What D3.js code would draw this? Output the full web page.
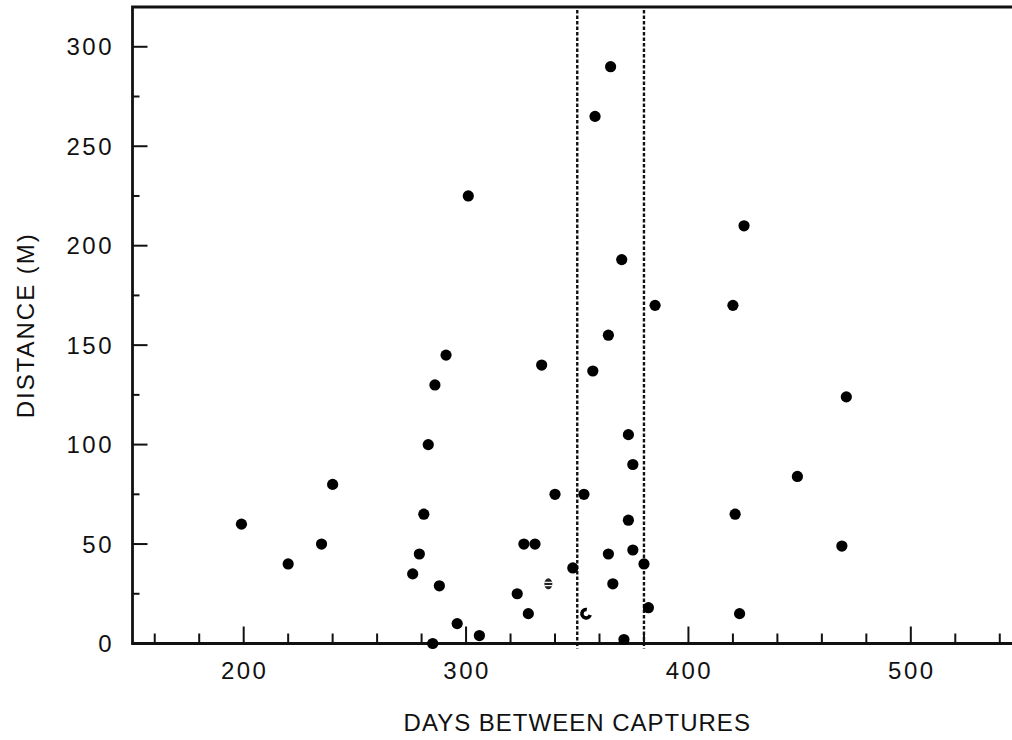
<!DOCTYPE html>
<html>
<head>
<meta charset="utf-8">
<script src="https://cdn.jsdelivr.net/npm/d3@7"></script>
<style>
  body { margin: 0; background: #fff; }
  text { font-family: "Liberation Sans", Arial, sans-serif; fill: #111; }
</style>
</head>
<body>
<script>

/* Data */

var days = [199, 220, 235, 240, 276, 279, 281, 283, 286, 291, 288, 285, 296, 301, 306,
            323, 326, 328, 331, 334, 340, 348, 353, 357, 358, 365, 364, 364, 370, 366,
            373, 373, 375, 375, 371, 380, 382, 385, 420, 421, 425, 423, 449, 469, 471];
var distance = [60, 40, 50, 80, 35, 45, 65, 100, 130, 145, 29, 0, 10, 225, 4,
                25, 50, 15, 50, 140, 75, 38, 75, 137, 265, 290, 155, 45, 193, 30,
                105, 62, 90, 47, 2, 40, 18, 170, 170, 65, 210, 15, 84, 49, 124];

// the two odd symbols in the plot
var faintDays = [337], faintDistance = [30];
var openDays = [354], openDistance = [15];

var refLines = [350, 380];

var xMajor = [200, 300, 400, 500];
var xMinor = [160, 180, 220, 240, 260, 280, 320, 340, 360, 380, 420, 440, 460, 480, 520, 540];
var yMajor = [0, 50, 100, 150, 200, 250, 300];
var yMinor = [25, 75, 125, 175, 225, 275];

var xTitle = "DAYS BETWEEN CAPTURES";
var yTitle = "DISTANCE (M)";


/* Chart */

var width = 1012, height = 740;

var x = d3.scaleLinear().domain([150, 550]).range([132.5, 1022]);
var y = d3.scaleLinear().domain([0, 320]).range([643.5, 7]);

var svg = d3.select("body")
    .append("svg")
    .attr("width", width)
    .attr("height", height);

// frame: left, bottom, top
svg.append("path")
    .attr("d", "M" + x(550) + "," + y(320) + "H" + x(150) + "V" + y(0) + "H" + x(550))
    .attr("fill", "none")
    .attr("stroke", "#111")
    .attr("stroke-width", 2.8);

// x ticks point up into the plot
svg.selectAll(".xmaj")
    .data(xMajor)
    .enter()
    .append("line")
    .attr("x1", function(d) { return x(d); })
    .attr("x2", function(d) { return x(d); })
    .attr("y1", y(0))
    .attr("y2", y(0) - 17)
    .attr("stroke", "#111")
    .attr("stroke-width", 2);

svg.selectAll(".xmin")
    .data(xMinor)
    .enter()
    .append("line")
    .attr("x1", function(d) { return x(d); })
    .attr("x2", function(d) { return x(d); })
    .attr("y1", y(0))
    .attr("y2", y(0) - 10)
    .attr("stroke", "#111")
    .attr("stroke-width", 2);

svg.selectAll(".xlab")
    .data(xMajor)
    .enter()
    .append("text")
    .attr("x", function(d) { return x(d) + 1; })
    .attr("y", 679)
    .attr("text-anchor", "middle")
    .attr("font-size", 24)
    .attr("letter-spacing", 2.5)
    .text(function(d) { return d; });

// y ticks point right
svg.selectAll(".ymaj")
    .data(yMajor)
    .enter()
    .append("line")
    .attr("x1", x(150))
    .attr("x2", x(150) + 15)
    .attr("y1", function(d) { return y(d); })
    .attr("y2", function(d) { return y(d); })
    .attr("stroke", "#111")
    .attr("stroke-width", 2);

svg.selectAll(".ymin")
    .data(yMinor)
    .enter()
    .append("line")
    .attr("x1", x(150))
    .attr("x2", x(150) + 7)
    .attr("y1", function(d) { return y(d); })
    .attr("y2", function(d) { return y(d); })
    .attr("stroke", "#111")
    .attr("stroke-width", 2);

svg.selectAll(".ylab")
    .data(yMajor)
    .enter()
    .append("text")
    .attr("x", 114)
    .attr("y", function(d) { return y(d) + 8.5; })
    .attr("text-anchor", "end")
    .attr("font-size", 24)
    .attr("letter-spacing", 2.5)
    .text(function(d) { return d; });

// titles
svg.append("text")
    .attr("x", x(350))
    .attr("y", 731)
    .attr("text-anchor", "middle")
    .attr("font-size", 24)
    .attr("letter-spacing", 1)
    .text(xTitle);

svg.append("text")
    .attr("transform", "translate(34," + y(160) + ") rotate(-90)")
    .attr("text-anchor", "middle")
    .attr("font-size", 24)
    .attr("letter-spacing", 2)
    .text(yTitle);

// dashed reference lines
svg.selectAll(".ref")
    .data(refLines)
    .enter()
    .append("line")
    .attr("x1", function(d) { return x(d); })
    .attr("x2", function(d) { return x(d); })
    .attr("y1", y(320) + 3)
    .attr("y2", y(0) + 5)
    .attr("stroke", "#111")
    .attr("stroke-width", 2.4)
    .attr("stroke-dasharray", "3.5,2");

/* Points */

svg.selectAll(".dot")
    .data(days)
    .enter()
    .append("circle")
    .attr("cx", function(d) { return x(d); })
    .attr("cy", function(d, i) { return y(distance[i]); })
    .attr("r", 5.6)
    .attr("fill", "#000");

svg.selectAll(".faint")
    .data(faintDays)
    .enter()
    .append("g")
    .attr("transform", function(d, i) {
        return "translate(" + x(d) + "," + y(faintDistance[i]) + ")";
    })
    .each(function() {
        var g = d3.select(this);
        g.append("ellipse").attr("rx", 4).attr("ry", 5.5).attr("fill", "#222");
        g.append("line").attr("x1", -4).attr("x2", 4).attr("y1", -1.5).attr("y2", -1.5)
            .attr("stroke", "#fff").attr("stroke-width", 1.2);
        g.append("line").attr("x1", -4).attr("x2", 4).attr("y1", 1.8).attr("y2", 1.8)
            .attr("stroke", "#fff").attr("stroke-width", 1.2);
    });

var arc = d3.arc()
    .innerRadius(2.5)
    .outerRadius(6)
    .startAngle(Math.PI * 0.6)
    .endAngle(Math.PI * 2.05);

svg.selectAll(".open")
    .data(openDays)
    .enter()
    .append("path")
    .attr("transform", function(d, i) {
        return "translate(" + x(d) + "," + y(openDistance[i]) + ")";
    })
    .attr("d", arc)
    .attr("fill", "#000");

</script>
</body>
</html>
